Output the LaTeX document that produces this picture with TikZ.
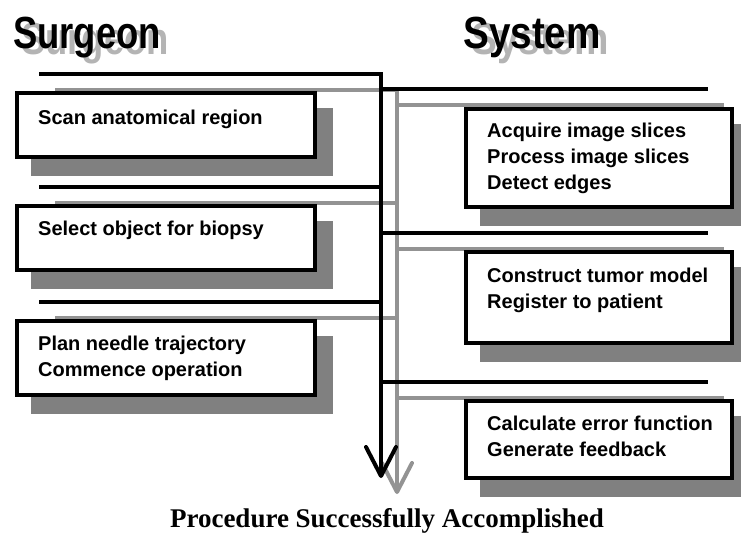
\documentclass[tikz,border=0pt]{standalone}
\usepackage{fontspec}
\setmainfont{Liberation Sans}
\newfontfamily\serifbf{Liberation Serif}
\usepackage{tikz}
\usetikzlibrary{arrows.meta,shadows}
\definecolor{shadegray}{HTML}{808080}
\definecolor{linegray}{HTML}{939393}
\definecolor{titlegray}{HTML}{B4B4B4}

\begin{document}
\begin{tikzpicture}[x=1pt,y=-1pt,
        track/.style={line width=4pt},
        stepbox/.style={draw, line width=4pt, fill=white, anchor=north west,
            drop shadow={shadow xshift=16pt, shadow yshift=-17pt, opacity=1,
                fill=shadegray, draw=shadegray, line width=4pt}},
        steptext/.style={anchor=base west, inner sep=0pt,
            font=\fontsize{20}{26}\selectfont\bfseries},
        title/.style={anchor=base west, inner sep=0pt,
            font=\fontsize{45}{45}\selectfont\bfseries}]
        \useasboundingbox (0,0) rectangle (741,557);
        % Titulos con su sombra
        \node[title, titlegray] (surgsh) at (21,54) {\scalebox{.81}[1]{Surgeon}};
        \node[title] (surg) at (13,48) {\scalebox{.81}[1]{Surgeon}};
        \node[title, titlegray] (systsh) at (471,54) {\scalebox{.86}[1]{System}};
        \node[title] (syst) at (463,48) {\scalebox{.86}[1]{System}};
        % Puntos de las lineas
        \coordinate (sg1) at (39,74);
        \coordinate (sg2) at (39,187);
        \coordinate (sg3) at (39,302);
        \coordinate (bustop) at (381,74);
        \coordinate (bus2) at (381,187);
        \coordinate (bus3) at (381,302);
        \coordinate (busa) at (381,89);
        \coordinate (busb) at (381,233);
        \coordinate (busc) at (381,382);
        \coordinate (busend) at (381,478);
        \coordinate (sy1) at (708,89);
        \coordinate (sy2) at (708,233);
        \coordinate (sy3) at (708,382);
        % Lineas: primero la sombra gris, luego la negra
        \foreach \col/\d in {linegray/16, black/0} {
            \draw[track, \col, -{Straight Barb[length=29pt, width=30pt, round]}]
                ([shift={(\d,\d)}]sg1) -- ([shift={(\d,\d)}]bustop) -- ([shift={(\d,\d)}]busend);
            \draw[track, \col] ([shift={(\d,\d)}]sg2) -- ([shift={(\d,\d)}]bus2);
            \draw[track, \col] ([shift={(\d,\d)}]sg3) -- ([shift={(\d,\d)}]bus3);
            \draw[track, \col] ([shift={(\d,\d)}]busa) -- ([shift={(\d,\d)}]sy1);
            \draw[track, \col] ([shift={(\d,\d)}]busb) -- ([shift={(\d,\d)}]sy2);
            \draw[track, \col] ([shift={(\d,\d)}]busc) -- ([shift={(\d,\d)}]sy3);
        }
        % Cajas del cirujano
        \node[stepbox, minimum width=298pt, minimum height=64pt] (scan) at (15,91) {};
        \node[stepbox, minimum width=298pt, minimum height=64pt] (select) at (15,204) {};
        \node[stepbox, minimum width=298pt, minimum height=74pt] (plan) at (15,319) {};
        \node[steptext] (scantxt) at ([shift={(23,33)}]scan.north west) {Scan anatomical region};
        \node[steptext] (selecttxt) at ([shift={(23,31)}]select.north west) {Select object for biopsy};
        \node[steptext] (plantxt) at ([shift={(23,31)}]plan.north west)
            {\begin{tabular}[t]{@{}l@{}}Plan needle trajectory\\Commence operation\end{tabular}};
        % Cajas del sistema
        \node[stepbox, minimum width=266pt, minimum height=98pt] (acquire) at (464,107) {};
        \node[stepbox, minimum width=266pt, minimum height=91pt] (model) at (464,250) {};
        \node[stepbox, minimum width=266pt, minimum height=77pt] (error) at (464,399) {};
        \node[steptext] (acquiretxt) at ([shift={(23,30)}]acquire.north west)
            {\begin{tabular}[t]{@{}l@{}}Acquire image slices\\Process image slices\\Detect edges\end{tabular}};
        \node[steptext] (modeltxt) at ([shift={(23,32)}]model.north west)
            {\begin{tabular}[t]{@{}l@{}}Construct tumor model\\Register to patient\end{tabular}};
        \node[steptext] (errortxt) at ([shift={(23,31)}]error.north west)
            {\begin{tabular}[t]{@{}l@{}}Calculate error function\\Generate feedback\end{tabular}};
        % Texto final
        \node[anchor=base, inner sep=0pt, font=\serifbf\bfseries\fontsize{27}{27}\selectfont] (done) at (387,527) {Procedure Successfully Accomplished};
    \end{tikzpicture}
\end{document}
